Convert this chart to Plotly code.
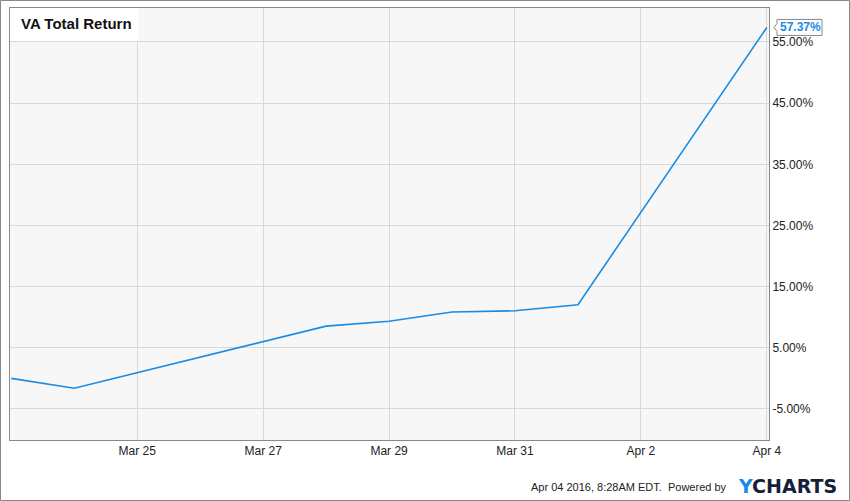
import plotly.graph_objects as go

dates = ["2016-03-23", "2016-03-24", "2016-03-28", "2016-03-29", "2016-03-30",
         "2016-03-31", "2016-04-01", "2016-04-04"]
total_return = [0.0, -1.6, 8.55, 9.35, 10.85, 11.05, 12.05, 57.37]

y_ticks = [55, 45, 35, 25, 15, 5, -5]
y_labels = ["%.2f%%" % v for v in y_ticks]
x_ticks = ["2016-03-25", "2016-03-27", "2016-03-29", "2016-03-31", "2016-04-02", "2016-04-04"]
x_labels = ["Mar 25", "Mar 27", "Mar 29", "Mar 31", "Apr 2", "Apr 4"]
y_range = [-10.07, 60.55]

line_color = "#1a8be3"
font = "Liberation Sans, Arial, sans-serif"

fig = go.Figure()
fig.add_trace(go.Scatter(x=dates, y=total_return, mode="lines",
                         line=dict(color=line_color, width=1.6),
                         hoverinfo="skip", showlegend=False))

fig.update_layout(
    width=850, height=501,
    margin=dict(l=10, r=81, t=8, b=61),
    paper_bgcolor="white", plot_bgcolor="#f7f7f7",
    font=dict(family=font, size=12, color="#222"),
    xaxis=dict(range=["2016-03-22 23:30", "2016-04-04 00:50"],
               tickvals=x_ticks, ticktext=x_labels,
               showgrid=True, gridcolor="#d8d8d8", gridwidth=1,
               showline=True, linecolor="#888", mirror=True,
               ticks="", zeroline=False, tickfont=dict(size=12, color="#222")),
    yaxis=dict(range=y_range, side="right",
               tickvals=y_ticks, ticktext=y_labels,
               showgrid=True, gridcolor="#d8d8d8", gridwidth=1,
               showline=True, linecolor="#888", mirror=True,
               ticks="", zeroline=False, tickfont=dict(size=12, color="#222")),
)

# title box in top-left of the plot
fig.add_shape(type="rect", xref="paper", yref="paper",
              x0=0, x1=128 / 759, y0=1 - 33 / 432, y1=1,
              fillcolor="white", line=dict(width=0), layer="above")
fig.add_annotation(xref="paper", yref="paper", x=9 / 759, y=1 - 16 / 432,
                   xanchor="left", yanchor="middle", showarrow=False,
                   text="<b>VA Total Return</b>",
                   font=dict(size=15, color="#111", family=font))

# last value callout (pointed box next to the line end)
last_frac = (total_return[-1] - y_range[0]) / (y_range[1] - y_range[0])
fig.add_shape(type="path", xref="paper", yref="paper",
              xsizemode="pixel", ysizemode="pixel", xanchor=1, yanchor=last_frac,
              path="M 5 0 L 8 4 L 8 8 L 53 8 L 53 -8 L 8 -8 L 8 -4 Z",
              fillcolor="white", line=dict(color="#888", width=1), layer="above")
fig.add_annotation(xref="paper", y=total_return[-1], x=1, xanchor="left",
                   yanchor="middle", xshift=9, showarrow=False,
                   text="<b>%.2f%%</b>" % total_return[-1],
                   font=dict(size=12, color=line_color, family=font))

# footer
fig.add_annotation(xref="paper", yref="paper", x=(729 - 10) / 759, y=-(487 - 440) / 432,
                   xanchor="right", yanchor="middle", showarrow=False,
                   text="Apr 04 2016, 8:28AM EDT.  Powered by",
                   font=dict(size=11, color="#222", family=font))
fig.add_annotation(xref="paper", yref="paper", x=(736 - 10) / 759, y=-(486 - 440) / 432,
                   xanchor="left", yanchor="middle", showarrow=False,
                   text="<b><span style='color:#1a8be3'>Y</span>CHARTS</b>",
                   font=dict(size=19, color="#15213a", family="DejaVu Sans, sans-serif"))

# outer frame
fig.add_shape(type="rect", xref="paper", yref="paper",
              x0=-9.5 / 759, x1=(849.5 - 10) / 759,
              y0=-(500.5 - 440) / 432, y1=(440 - 0.5) / 432,
              line=dict(color="#888", width=1), fillcolor="rgba(0,0,0,0)")

fig.write_html("out.html", config={"displayModeBar": False},
               post_script="document.body.style.margin='0';")
